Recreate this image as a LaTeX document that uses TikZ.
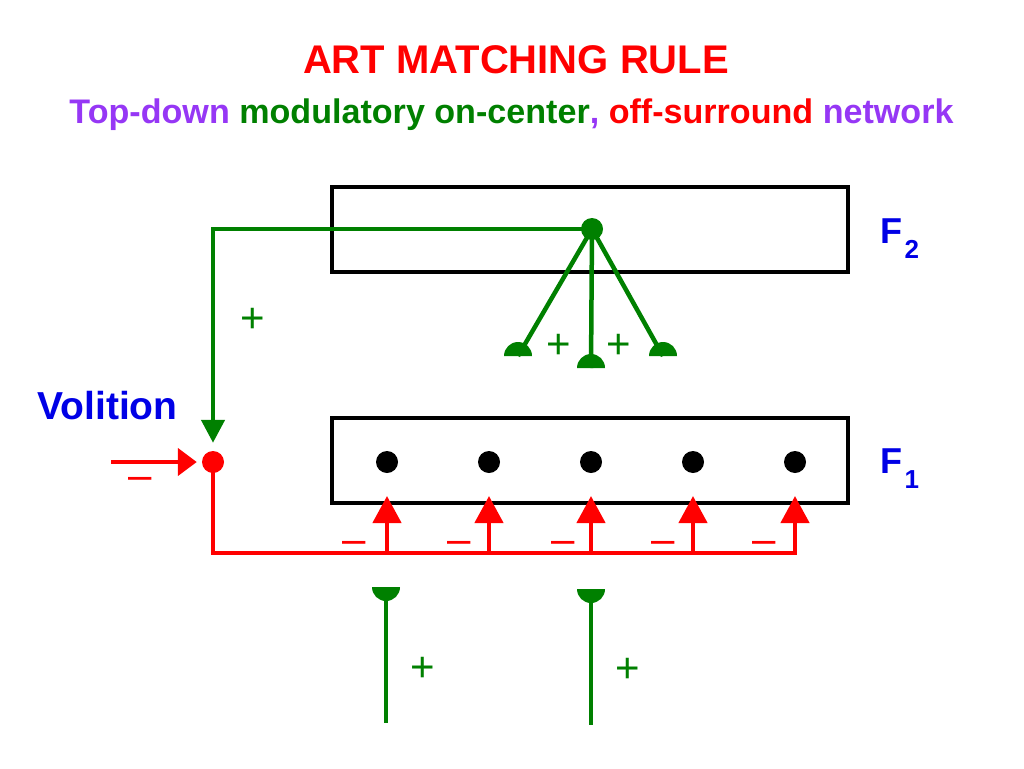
\documentclass[tikz,border=0pt]{standalone}
\usepackage{fontspec}
\setmainfont{Liberation Sans}
\usetikzlibrary{arrows.meta,calc}
\definecolor{artred}{RGB}{255,0,0}
\definecolor{artgreen}{RGB}{0,128,0}
\definecolor{artblue}{RGB}{0,0,230}
\definecolor{artpurple}{RGB}{150,55,245}
\begin{document}
\begin{tikzpicture}[x=1pt,y=-1pt,
  layerbox/.style={draw=black, line width=4pt, minimum width=516pt, minimum height=85pt, inner sep=0pt},
  cell/.style={circle, fill=black, minimum size=22pt, inner sep=0pt},
  gline/.style={draw=artgreen, line width=4.5pt},
  rline/.style={draw=artred, line width=4.5pt},
  rarrow/.style={rline, -{Triangle[width=28pt,length=27pt]}},
  pluslab/.style={text=artgreen, font=\fontsize{42}{42}\selectfont, anchor=base, inner sep=0pt},
  minuslab/.style={text=artred, font=\fontsize{42}{42}\selectfont, anchor=base, inner sep=0pt},
  bluelab/.style={text=artblue, font=\bfseries\fontsize{36}{36}\selectfont, anchor=base west, inner sep=0pt}
]
\useasboundingbox (0,0) rectangle (1024,768);

% titles
\node[font=\bfseries\fontsize{40}{40}\selectfont, text=artred, anchor=base] (title) at (516,74) {ART MATCHING RULE};
\node[font=\bfseries\fontsize{34.1}{34.1}\selectfont, anchor=base] (subtitle) at (511.5,123)
  {\textcolor{artpurple}{Top-down} \textcolor{artgreen}{modulatory on-center}\textcolor{artpurple}{,} \textcolor{artred}{off-surround} \textcolor{artpurple}{network}};

% layers
\node[layerbox] (F2box) at (590,229.5) {};
\node[layerbox] (F1box) at (590,460.5) {};
\node[bluelab] (F2lab) at (880.5,243) {F\kern2pt\raisebox{-15pt}{\fontsize{26}{26}\selectfont 2}};
\node[bluelab] (F1lab) at (880.5,473) {F\kern2pt\raisebox{-15pt}{\fontsize{26}{26}\selectfont 1}};
\node[text=artblue, font=\bfseries\fontsize{39}{39}\selectfont, anchor=base, inner sep=0pt] (vol) at (107.5,419) {Volition};

% F1 cells
\node[cell] (d1) at (387,462) {};
\node[cell] (d2) at (489,462) {};
\node[cell] (d3) at (591,462) {};
\node[cell] (d4) at (693,462) {};
\node[cell] (d5) at (795,462) {};

% F2 cell and volition gate
\node[circle, fill=artgreen, minimum size=22pt, inner sep=0pt] (g) at (592,229) {};
\node[circle, fill=artred, minimum size=22pt, inner sep=0pt] (rdot) at (213,462) {};

% top-down green pathways
\coordinate (capL) at (518,356);
\coordinate (capM) at (591,368);
\coordinate (capR) at (663,356);
\draw[gline] (g.center) -- (capL);
\draw[gline] (g.center) -- (capM);
\draw[gline] (g.center) -- (capR);
\fill[artgreen] ([xshift=-14pt]capL) arc[start angle=180, end angle=0, radius=14pt] -- cycle;
\fill[artgreen] ([xshift=-14pt]capM) arc[start angle=180, end angle=0, radius=14pt] -- cycle;
\fill[artgreen] ([xshift=-14pt]capR) arc[start angle=180, end angle=0, radius=14pt] -- cycle;
\draw[gline, -{Triangle[width=23pt,length=23pt]}] (g.center) -| ([yshift=8pt]rdot.north);

% volition input
\coordinate (vin) at (111,462);
\draw[rline, -{Triangle[width=27pt,length=19pt]}] (vin) -- ([xshift=-5pt]rdot.west);

% off-surround bus
\coordinate (bE) at (797,553);
\draw[rline] (rdot.center) |- (bE);
\foreach \i in {1,...,5}{
  \draw[rarrow] (d\i |- bE) -- ([yshift=-34pt]d\i.center);
}

% bottom-up inputs
\coordinate (b1) at (386,587);
\coordinate (b2) at (591,589);
\coordinate (e1) at (386,723);
\coordinate (e2) at (591,725);
\draw[gline] (b1) -- (e1);
\draw[gline] (b2) -- (e2);
\fill[artgreen] ([xshift=-14pt]b1) arc[start angle=180, end angle=360, radius=14pt] -- cycle;
\fill[artgreen] ([xshift=-14pt]b2) arc[start angle=180, end angle=360, radius=14pt] -- cycle;

% sign labels
\node[pluslab] (p0) at (253,332) {+};
\node[pluslab] (p1) at (559,358.5) {+};
\node[pluslab] (p2) at (619,358.5) {+};
\node[pluslab] (p3) at (422.5,681) {+};
\node[pluslab] (p4) at (627.5,682) {+};
\node[minuslab] (m0) at (140,489) {--};
\node[minuslab] (m1) at (354,553) {--};
\node[minuslab] (m2) at (459,553) {--};
\node[minuslab] (m3) at (563,553) {--};
\node[minuslab] (m4) at (663,553) {--};
\node[minuslab] (m5) at (764,553) {--};
\end{tikzpicture}
\end{document}
